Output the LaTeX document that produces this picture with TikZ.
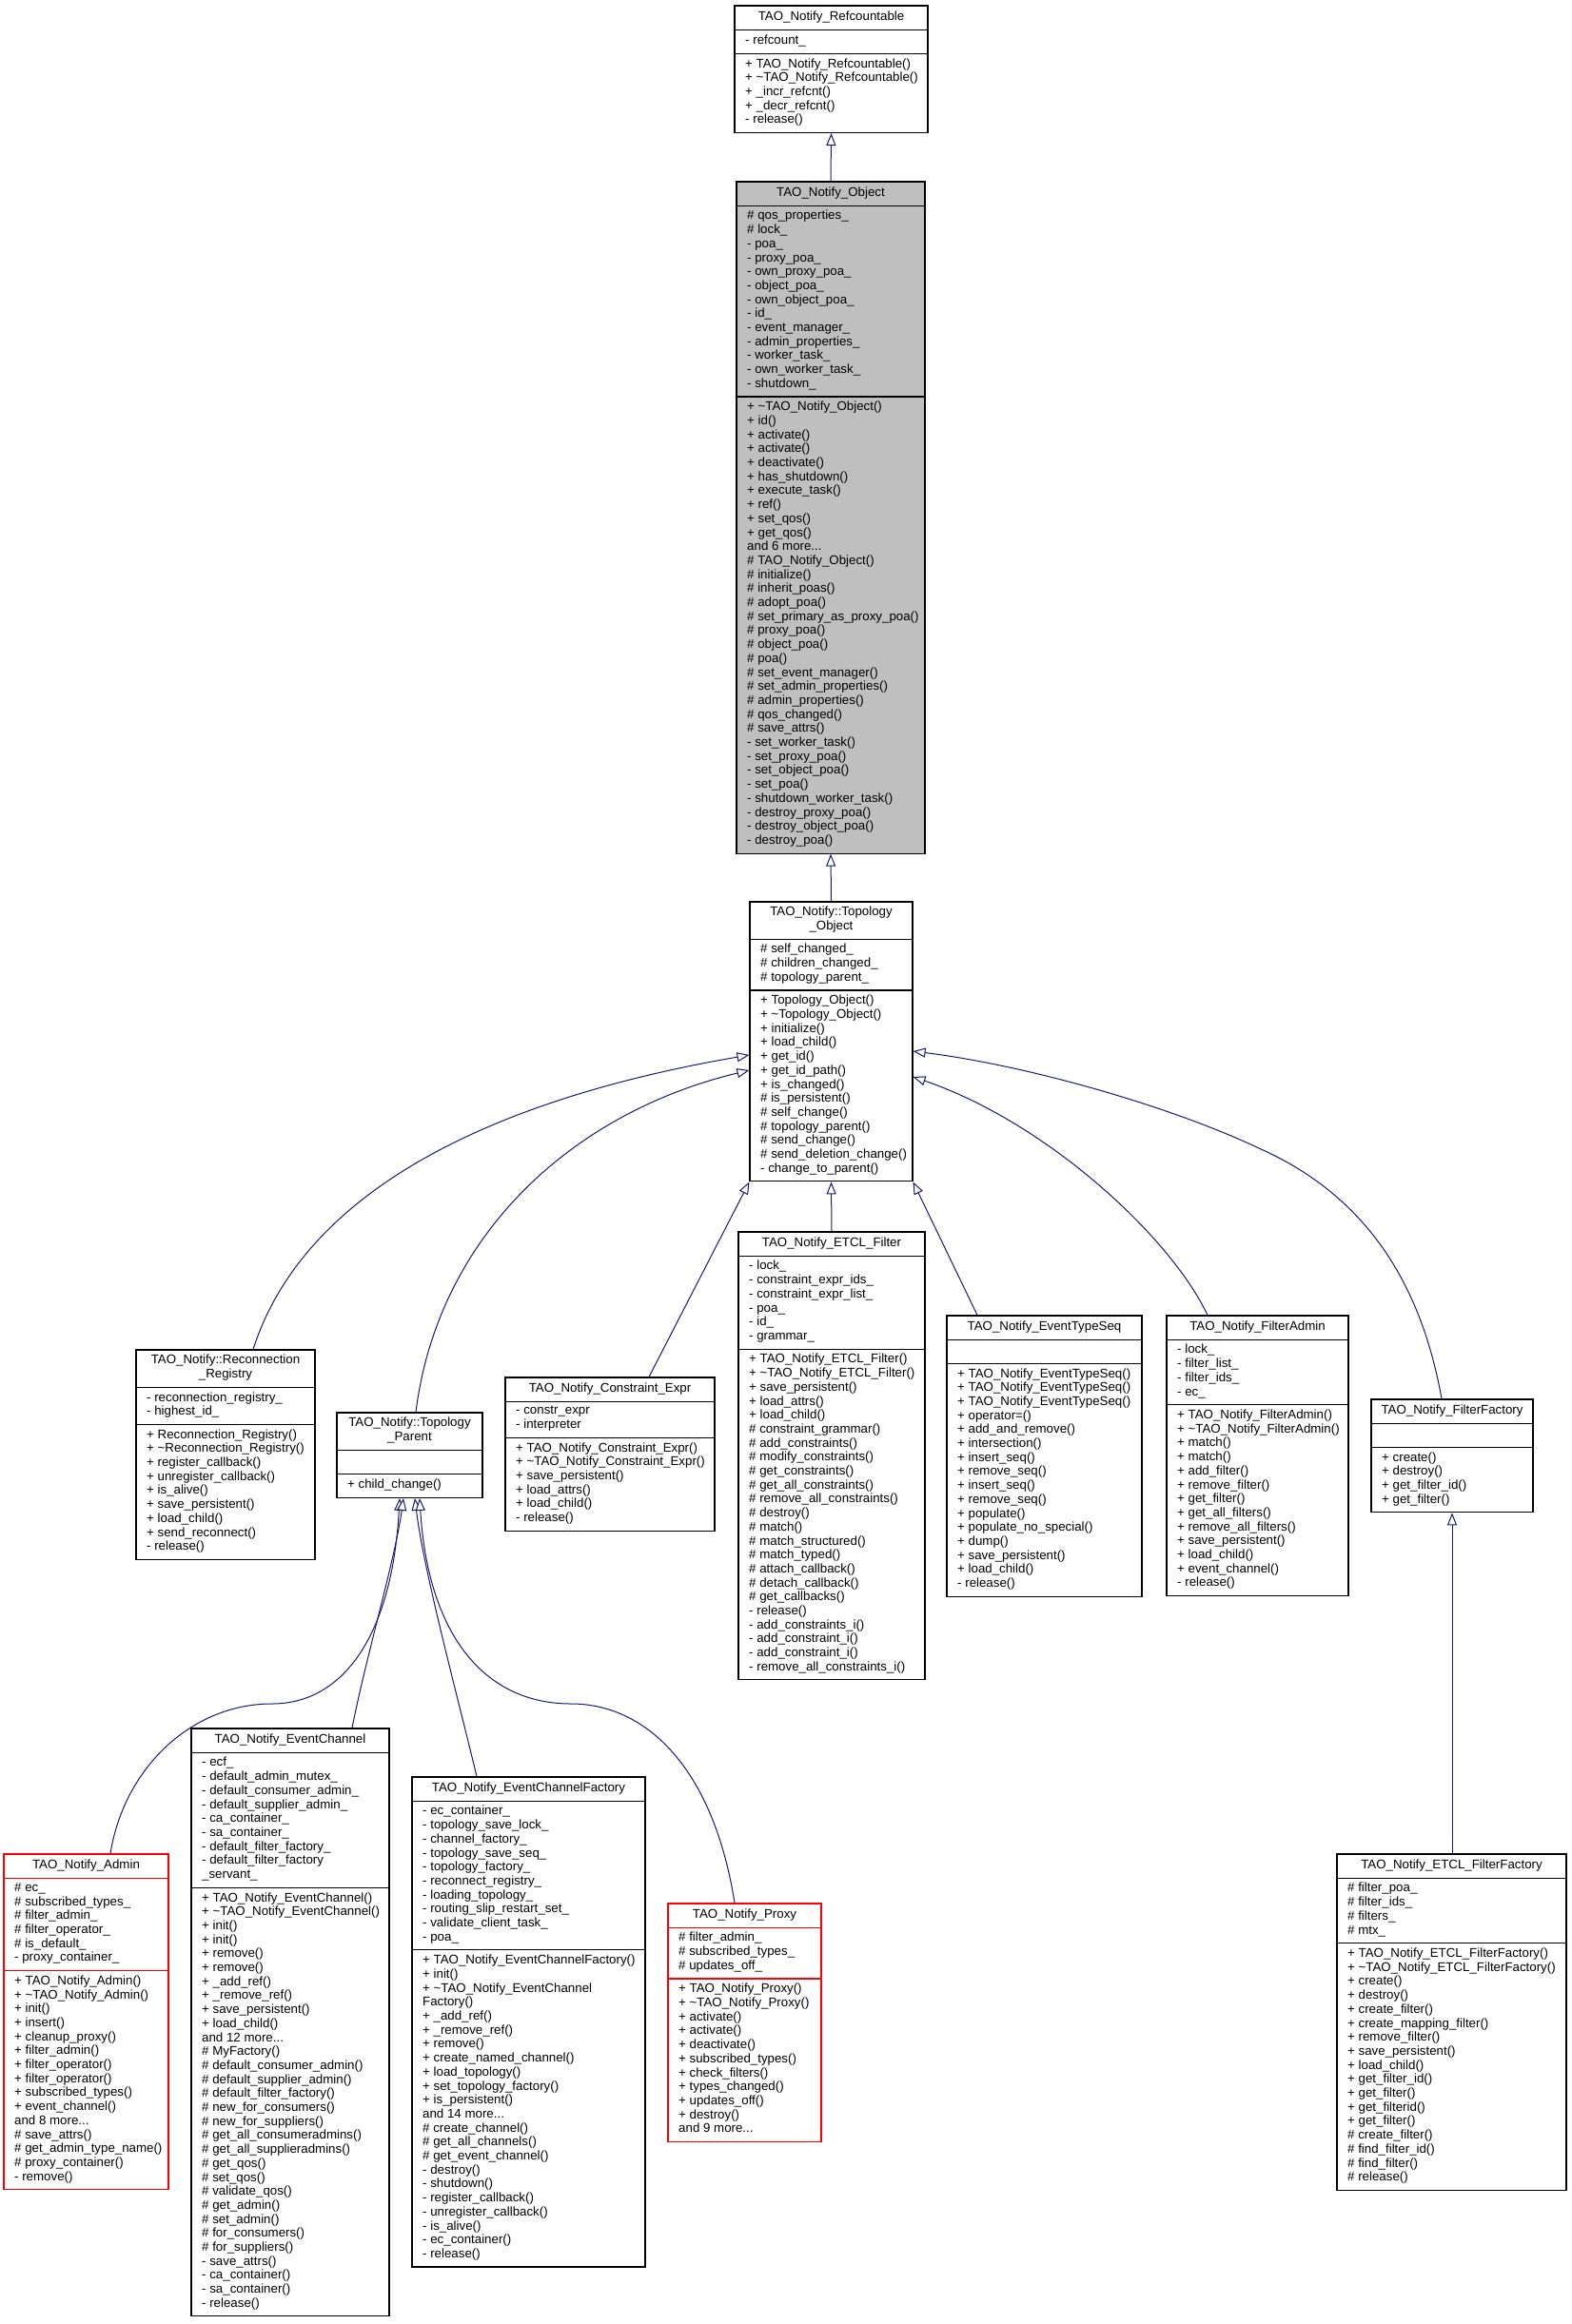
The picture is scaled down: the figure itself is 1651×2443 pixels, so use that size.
\documentclass[tikz,border=0pt]{standalone}
\usepackage{fontspec}
\setmainfont{Liberation Sans}
\usetikzlibrary{arrows.meta,fit,backgrounds}
\definecolor{edgeblue}{HTML}{191970}
\definecolor{objgray}{HTML}{BFBFBF}
\newcommand\tld{\textasciitilde}
\pgfdeclarelayer{back}
\pgfsetlayers{back,background,main}
\tikzset{
  ctext/.style={font=\fontsize{13.3}{14.7}\selectfont, inner xsep=11pt, inner ysep=5pt,
    execute at begin node=\strut, execute at end node=\strut},
  ctitle/.style={ctext, align=center, inner xsep=0pt},
  csec/.style={ctext, align=left},
  cbox/.style={draw=black, line width=1.1pt, fill=white},
  sepline/.style={draw=black, line width=1.1pt},
  inh/.style={draw=edgeblue, line width=1pt, -{Triangle[length=13pt, width=10pt, fill=white]}},
}
\newcommand\umlclass[8]{%
  \coordinate (#1-tl) at (#2,#4);
  \node[ctitle, anchor=north] (#1-t) at ({(#2+#3)/2},#4) {#5};
  \node[csec, anchor=north west] (#1-a) at (#1-t.south -| #1-tl) {#6};
  \node[csec, anchor=north west] (#1-m) at (#1-a.south -| #1-tl) {#7};
  \coordinate (#1-br) at (#1-m.south -| #3,0);
  \begin{pgfonlayer}{background}
    \node[cbox, #8, fit=(#1-tl)(#1-br), inner sep=0pt] (#1) {};
  \end{pgfonlayer}
  \draw[sepline, #8] (#1-t.south -| #1-tl) -- (#1-t.south -| #1-br);
  \draw[sepline, #8] (#1-a.south -| #1-tl) -- (#1-a.south -| #1-br);
}
\begin{document}
\catcode`\_=12
\begin{tikzpicture}[x=1pt,y=-1pt]
\begin{pgfonlayer}{back}
  \fill[white] (0,0) rectangle (1651,2443);
\end{pgfonlayer}
\useasboundingbox (0,0) rectangle (1651,2443);

\umlclass{rc}{772}{975}{6}{TAO_Notify_Refcountable}
{- refcount_}
{+ TAO_Notify_Refcountable()\\+ \tld TAO_Notify_Refcountable()\\+ _incr_refcnt()\\+ _decr_refcnt()\\- release()}{}

\umlclass{obj}{774}{972}{191}{TAO_Notify_Object}
{\# qos_properties_\\\# lock_\\- poa_\\- proxy_poa_\\- own_proxy_poa_\\- object_poa_\\- own_object_poa_\\- id_\\- event_manager_\\- admin_properties_\\- worker_task_\\- own_worker_task_\\- shutdown_}
{+ \tld TAO_Notify_Object()\\+ id()\\+ activate()\\+ activate()\\+ deactivate()\\+ has_shutdown()\\+ execute_task()\\+ ref()\\+ set_qos()\\+ get_qos()\\and 6 more...\\\# TAO_Notify_Object()\\\# initialize()\\\# inherit_poas()\\\# adopt_poa()\\\# set_primary_as_proxy_poa()\\\# proxy_poa()\\\# object_poa()\\\# poa()\\\# set_event_manager()\\\# set_admin_properties()\\\# admin_properties()\\\# qos_changed()\\\# save_attrs()\\- set_worker_task()\\- set_proxy_poa()\\- set_object_poa()\\- set_poa()\\- shutdown_worker_task()\\- destroy_proxy_poa()\\- destroy_object_poa()\\- destroy_poa()}{fill=objgray}

\umlclass{to}{788}{959}{948}{TAO_Notify::Topology\\_Object}
{\# self_changed_\\\# children_changed_\\\# topology_parent_}
{+ Topology_Object()\\+ \tld Topology_Object()\\+ initialize()\\+ load_child()\\+ get_id()\\+ get_id_path()\\+ is_changed()\\\# is_persistent()\\\# self_change()\\\# topology_parent()\\\# send_change()\\\# send_deletion_change()\\- change_to_parent()}{}

\umlclass{rr}{143}{331}{1419}{TAO_Notify::Reconnection\\_Registry}
{- reconnection_registry_\\- highest_id_}
{+ Reconnection_Registry()\\+ \tld Reconnection_Registry()\\+ register_callback()\\+ unregister_callback()\\+ is_alive()\\+ save_persistent()\\+ load_child()\\+ send_reconnect()\\- release()}{}

\umlclass{tp}{354}{507}{1485}{TAO_Notify::Topology\\_Parent}
{}
{+ child_change()}{}

\umlclass{ce}{531}{751}{1448}{TAO_Notify_Constraint_Expr}
{- constr_expr\\- interpreter}
{+ TAO_Notify_Constraint_Expr()\\+ \tld TAO_Notify_Constraint_Expr()\\+ save_persistent()\\+ load_attrs()\\+ load_child()\\- release()}{}

\umlclass{etcl}{776}{972}{1295}{TAO_Notify_ETCL_Filter}
{- lock_\\- constraint_expr_ids_\\- constraint_expr_list_\\- poa_\\- id_\\- grammar_}
{+ TAO_Notify_ETCL_Filter()\\+ \tld TAO_Notify_ETCL_Filter()\\+ save_persistent()\\+ load_attrs()\\+ load_child()\\\# constraint_grammar()\\\# add_constraints()\\\# modify_constraints()\\\# get_constraints()\\\# get_all_constraints()\\\# remove_all_constraints()\\\# destroy()\\\# match()\\\# match_structured()\\\# match_typed()\\\# attach_callback()\\\# detach_callback()\\\# get_callbacks()\\- release()\\- add_constraints_i()\\- add_constraint_i()\\- add_constraint_i()\\- remove_all_constraints_i()}{}

\umlclass{ets}{995}{1200}{1383}{TAO_Notify_EventTypeSeq}
{}
{+ TAO_Notify_EventTypeSeq()\\+ TAO_Notify_EventTypeSeq()\\+ TAO_Notify_EventTypeSeq()\\+ operator=()\\+ add_and_remove()\\+ intersection()\\+ insert_seq()\\+ remove_seq()\\+ insert_seq()\\+ remove_seq()\\+ populate()\\+ populate_no_special()\\+ dump()\\+ save_persistent()\\+ load_child()\\- release()}{}

\umlclass{fa}{1226}{1417}{1383}{TAO_Notify_FilterAdmin}
{- lock_\\- filter_list_\\- filter_ids_\\- ec_}
{+ TAO_Notify_FilterAdmin()\\+ \tld TAO_Notify_FilterAdmin()\\+ match()\\+ match()\\+ add_filter()\\+ remove_filter()\\+ get_filter()\\+ get_all_filters()\\+ remove_all_filters()\\+ save_persistent()\\+ load_child()\\+ event_channel()\\- release()}{}

\umlclass{ff}{1441}{1611}{1471}{TAO_Notify_FilterFactory}
{}
{+ create()\\+ destroy()\\+ get_filter_id()\\+ get_filter()}{}

\umlclass{efff}{1405}{1646}{1949}{TAO_Notify_ETCL_FilterFactory}
{\# filter_poa_\\\# filter_ids_\\\# filters_\\\# mtx_}
{+ TAO_Notify_ETCL_FilterFactory()\\+ \tld TAO_Notify_ETCL_FilterFactory()\\+ create()\\+ destroy()\\+ create_filter()\\+ create_mapping_filter()\\+ remove_filter()\\+ save_persistent()\\+ load_child()\\+ get_filter_id()\\+ get_filter()\\+ get_filterid()\\+ get_filter()\\\# create_filter()\\\# find_filter_id()\\\# find_filter()\\\# release()}{}

\umlclass{adm}{4}{177}{1949}{TAO_Notify_Admin}
{\# ec_\\\# subscribed_types_\\\# filter_admin_\\\# filter_operator_\\\# is_default_\\- proxy_container_}
{+ TAO_Notify_Admin()\\+ \tld TAO_Notify_Admin()\\+ init()\\+ insert()\\+ cleanup_proxy()\\+ filter_admin()\\+ filter_operator()\\+ filter_operator()\\+ subscribed_types()\\+ event_channel()\\and 8 more...\\\# save_attrs()\\\# get_admin_type_name()\\\# proxy_container()\\- remove()}{draw=red}

\umlclass{ec}{201}{409}{1817}{TAO_Notify_EventChannel}
{- ecf_\\- default_admin_mutex_\\- default_consumer_admin_\\- default_supplier_admin_\\- ca_container_\\- sa_container_\\- default_filter_factory_\\- default_filter_factory\\_servant_}
{+ TAO_Notify_EventChannel()\\+ \tld TAO_Notify_EventChannel()\\+ init()\\+ init()\\+ remove()\\+ remove()\\+ _add_ref()\\+ _remove_ref()\\+ save_persistent()\\+ load_child()\\and 12 more...\\\# MyFactory()\\\# default_consumer_admin()\\\# default_supplier_admin()\\\# default_filter_factory()\\\# new_for_consumers()\\\# new_for_suppliers()\\\# get_all_consumeradmins()\\\# get_all_supplieradmins()\\\# get_qos()\\\# set_qos()\\\# validate_qos()\\\# get_admin()\\\# set_admin()\\\# for_consumers()\\\# for_suppliers()\\- save_attrs()\\- ca_container()\\- sa_container()\\- release()}{}

\umlclass{ecf}{433}{678}{1868}{TAO_Notify_EventChannelFactory}
{- ec_container_\\- topology_save_lock_\\- channel_factory_\\- topology_save_seq_\\- topology_factory_\\- reconnect_registry_\\- loading_topology_\\- routing_slip_restart_set_\\- validate_client_task_\\- poa_}
{+ TAO_Notify_EventChannelFactory()\\+ init()\\+ \tld TAO_Notify_EventChannel\\Factory()\\+ _add_ref()\\+ _remove_ref()\\+ remove()\\+ create_named_channel()\\+ load_topology()\\+ set_topology_factory()\\+ is_persistent()\\and 14 more...\\\# create_channel()\\\# get_all_channels()\\\# get_event_channel()\\- destroy()\\- shutdown()\\- register_callback()\\- unregister_callback()\\- is_alive()\\- ec_container()\\- release()}{}

\umlclass{prx}{702}{863}{2001}{TAO_Notify_Proxy}
{\# filter_admin_\\\# subscribed_types_\\\# updates_off_}
{+ TAO_Notify_Proxy()\\+ \tld TAO_Notify_Proxy()\\+ activate()\\+ activate()\\+ deactivate()\\+ subscribed_types()\\+ check_filters()\\+ types_changed()\\+ updates_off()\\+ destroy()\\and 9 more...}{draw=red}

% inheritance connectors
\draw[inh] (obj.north) -- (rc.south);
\draw[inh] (to.north) -- (obj.south);
\draw[inh] (etcl.north) -- (to.south);
\draw[inh] (ce.north -| 682,0) -- (to.south west);
\draw[inh] (rr.north -| 266,0) .. controls (320,1250) and (520,1155) .. (to.west |- 0,1109);
\draw[inh] (tp.north -| 437,0) .. controls (460,1300) and (600,1170) .. (to.west |- 0,1125);
\draw[inh] (ets.north -| 1027,0) -- (to.south east);
\draw[inh] (fa.north -| 1269,0) .. controls (1230,1300) and (1100,1180) .. (to.east |- 0,1132);
\draw[inh] (ff.north -| 1515,0) .. controls (1490,1330) and (1420,1250) .. (1323,1207)
  .. controls (1230,1163) and (1080,1120) .. (to.east |- 0,1105);
\draw[inh] (efff.north -| ff.south) -- (ff.south);
\draw[inh] (adm.north -| 116,0) .. controls (130,1860) and (200,1791) .. (286,1791)
  .. controls (360,1791) and (412,1720) .. (tp.south -| 420,0);
\draw[inh] (ec.north -| 370,0) .. controls (385,1740) and (415,1640) .. (tp.south -| 424,0);
\draw[inh] (ecf.north -| 501,0) .. controls (480,1780) and (445,1650) .. (tp.south -| 436,0);
\draw[inh] (prx.north -| 772,0) .. controls (750,1860) and (680,1791) .. (600,1791)
  .. controls (510,1791) and (450,1720) .. (tp.south -| 441,0);
\end{tikzpicture}
\end{document}
